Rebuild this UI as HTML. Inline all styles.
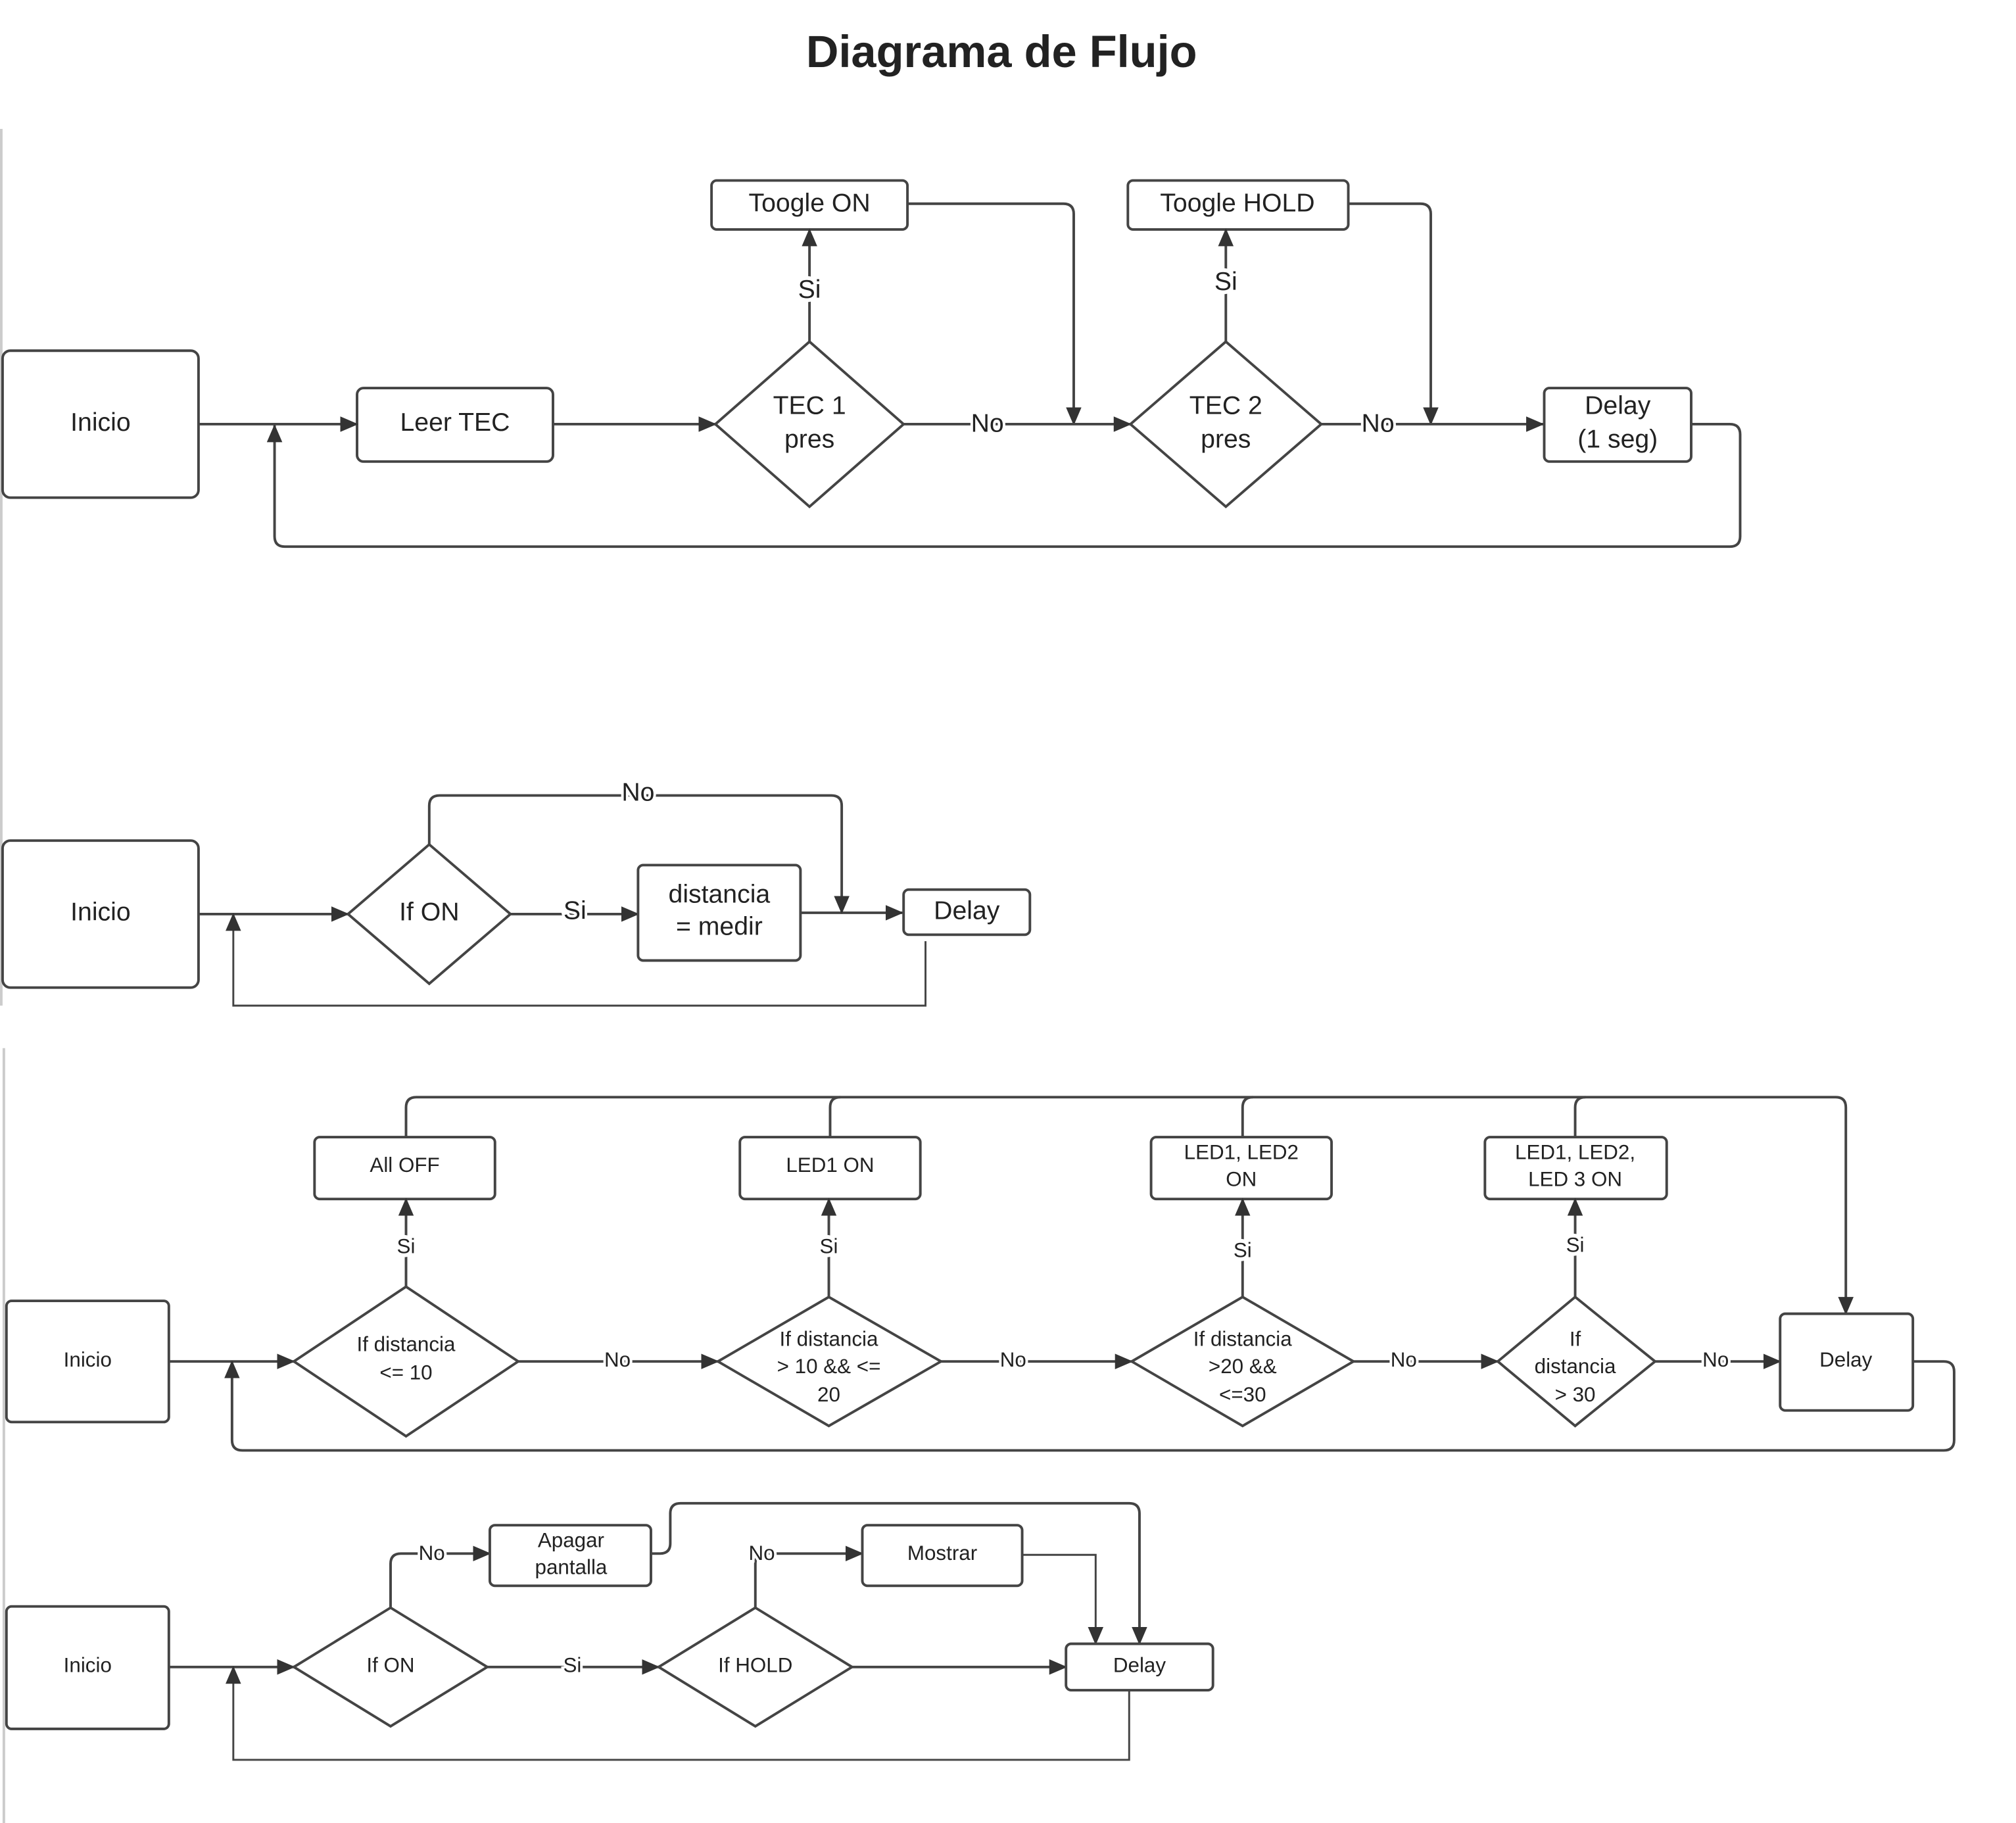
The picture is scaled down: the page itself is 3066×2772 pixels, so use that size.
<!DOCTYPE html>
<html><head><meta charset="utf-8"><style>
html,body{margin:0;padding:0;background:#fff;}
svg{display:block;}
text{font-family:"Liberation Sans",sans-serif;fill:#222;}
</style></head><body>
<svg width="3066" height="2772" viewBox="0 0 1564 1414" preserveAspectRatio="none" xmlns="http://www.w3.org/2000/svg">
<defs>
<marker id="a" markerUnits="userSpaceOnUse" markerWidth="14" markerHeight="12" refX="13" refY="6" orient="auto">
<path d="M0,0 L14,6 L0,12 Z" fill="#333"/></marker>
</defs>
<rect width="1564" height="1414" fill="#fff"/>
<text x="777" y="52" font-size="35" font-weight="bold" text-anchor="middle" fill="#000">Diagrama de Flujo</text>
<line x1="1" y1="100" x2="1" y2="780" stroke="#ccc" stroke-width="2"/>
<line x1="3" y1="813" x2="3" y2="1414" stroke="#ccc" stroke-width="2"/>

<g fill="none" stroke="#444" stroke-width="2">
<!-- Section 1 -->
<rect x="2" y="272" width="152" height="114" rx="6" fill="#fff"/>
<rect x="277" y="301" width="152" height="57" rx="5" fill="#fff"/>
<path d="M154,329 H277" marker-end="url(#a)"/>
<path d="M1312,329 H1342 Q1350,329 1350,337 V416 Q1350,424 1342,424 H221 Q213,424 213,416 V330" marker-end="url(#a)"/>
<path d="M429,329 H555" marker-end="url(#a)"/>
<polygon points="628,265 701,329 628,393 555,329" fill="#fff"/>
<rect x="552" y="140" width="152" height="38" rx="4" fill="#fff"/>
<path d="M628,265 V178" marker-end="url(#a)"/>
<path d="M704,158 H825 Q833,158 833,166 V329" marker-end="url(#a)"/>
<path d="M701,329 H877" marker-end="url(#a)"/>
<polygon points="951,265 1025,329 951,393 877,329" fill="#fff"/>
<rect x="875" y="140" width="171" height="38" rx="4" fill="#fff"/>
<path d="M951,265 V178" marker-end="url(#a)"/>
<path d="M1046,158 H1102 Q1110,158 1110,166 V329" marker-end="url(#a)"/>
<path d="M1025,329 H1197" marker-end="url(#a)"/>
<rect x="1198" y="301" width="114" height="57" rx="4" fill="#fff"/>

<!-- Section 2 -->
<rect x="2" y="652" width="152" height="114" rx="6" fill="#fff"/>
<path d="M154,709 H270" marker-end="url(#a)"/>
<path d="M718,730 V780 H181 V709" stroke-width="1.5" marker-end="url(#a)"/>
<polygon points="333,655 396,709 333,763 270,709" fill="#fff"/>
<path d="M396,709 H495" marker-end="url(#a)"/>
<rect x="495" y="671" width="126" height="74" rx="4" fill="#fff"/>
<path d="M621,708 H700" marker-end="url(#a)"/>
<path d="M333,655 V625 Q333,617 341,617 H645 Q653,617 653,625 V708" marker-end="url(#a)"/>
<rect x="701" y="690" width="98" height="35" rx="4" fill="#fff"/>

<!-- Section 3 -->
<rect x="5" y="1009" width="126" height="94" rx="4" fill="#fff"/>
<path d="M131,1056 H228" marker-end="url(#a)"/>
<path d="M1484,1056 H1508 Q1516,1056 1516,1064 V1117 Q1516,1125 1508,1125 H188 Q180,1125 180,1117 V1056" marker-end="url(#a)"/>
<polygon points="315,998 402,1056 315,1114 228,1056" fill="#fff"/>
<rect x="244" y="882" width="140" height="48" rx="4" fill="#fff"/>
<path d="M315,998 V930" marker-end="url(#a)"/>
<path d="M315,882 V859 Q315,851 323,851 H1424 Q1432,851 1432,859 V1019" marker-end="url(#a)"/>
<path d="M644,882 V859 Q644,851 652,851"/>
<path d="M964,882 V859 Q964,851 972,851"/>
<path d="M1222,882 V859 Q1222,851 1230,851"/>
<path d="M402,1056 H557" marker-end="url(#a)"/>
<polygon points="643,1006 730,1056 643,1106 557,1056" fill="#fff"/>
<rect x="574" y="882" width="140" height="48" rx="4" fill="#fff"/>
<path d="M643,1006 V930" marker-end="url(#a)"/>
<path d="M730,1056 H878" marker-end="url(#a)"/>
<polygon points="964,1006 1050,1056 964,1106 878,1056" fill="#fff"/>
<rect x="893" y="882" width="140" height="48" rx="4" fill="#fff"/>
<path d="M964,1006 V930" marker-end="url(#a)"/>
<path d="M1050,1056 H1162" marker-end="url(#a)"/>
<polygon points="1222,1006 1284,1056 1222,1106 1162,1056" fill="#fff"/>
<rect x="1152" y="882" width="141" height="48" rx="4" fill="#fff"/>
<path d="M1222,1006 V930" marker-end="url(#a)"/>
<path d="M1284,1056 H1381" marker-end="url(#a)"/>
<rect x="1381" y="1019" width="103" height="75" rx="4" fill="#fff"/>

<!-- Section 4 -->
<rect x="5" y="1246" width="126" height="95" rx="4" fill="#fff"/>
<path d="M131,1293 H228" marker-end="url(#a)"/>
<path d="M876,1311 V1365 H181 V1293" stroke-width="1.5" marker-end="url(#a)"/>
<polygon points="303,1247 378,1293 303,1339 228,1293" fill="#fff"/>
<path d="M303,1247 V1213 Q303,1205 311,1205 H380" marker-end="url(#a)"/>
<rect x="380" y="1183" width="125" height="47" rx="4" fill="#fff"/>
<path d="M505,1205 H512 Q520,1205 520,1197 V1174 Q520,1166 528,1166 H876 Q884,1166 884,1174 V1275" marker-end="url(#a)"/>
<path d="M378,1293 H511" marker-end="url(#a)"/>
<polygon points="586,1247 661,1293 586,1339 511,1293" fill="#fff"/>
<path d="M586,1247 V1213 Q586,1205 594,1205 H669" marker-end="url(#a)"/>
<rect x="669" y="1183" width="124" height="47" rx="4" fill="#fff"/>
<path d="M793,1206 H850 V1275" stroke-width="1.5" marker-end="url(#a)"/>
<path d="M661,1293 H827" marker-end="url(#a)"/>
<rect x="827" y="1275" width="114" height="36" rx="4" fill="#fff"/>
</g>

<g text-anchor="middle" font-size="20">
<text x="78" y="334">Inicio</text>
<text x="353" y="334">Leer TEC</text>
<text x="628" y="321">TEC 1</text><text x="628" y="347">pres</text>
<text x="628" y="164">Toogle ON</text>
<text x="628" y="231" style="paint-order:stroke" stroke="#fff" stroke-width="6">Si</text>
<text x="766" y="335" style="paint-order:stroke" stroke="#fff" stroke-width="4">No</text>
<text x="951" y="321">TEC 2</text><text x="951" y="347">pres</text>
<text x="960" y="164">Toogle HOLD</text>
<text x="951" y="225" style="paint-order:stroke" stroke="#fff" stroke-width="6">Si</text>
<text x="1069" y="335" style="paint-order:stroke" stroke="#fff" stroke-width="4">No</text>
<text x="1255" y="321">Delay</text><text x="1255" y="347">(1 seg)</text>

<text x="78" y="714">Inicio</text>
<text x="333" y="714">If ON</text>
<text x="446" y="713" style="paint-order:stroke" stroke="#fff" stroke-width="4">Si</text>
<text x="558" y="700">distancia</text><text x="558" y="725">= medir</text>
<text x="495" y="621" style="paint-order:stroke" stroke="#fff" stroke-width="4">No</text>
<text x="750" y="713">Delay</text>
</g>

<g text-anchor="middle" font-size="16">
<text x="68" y="1060">Inicio</text>
<text x="315" y="1048">If distancia</text><text x="315" y="1070">&lt;= 10</text>
<text x="314" y="909">All OFF</text>
<text x="315" y="972" style="paint-order:stroke" stroke="#fff" stroke-width="6">Si</text>
<text x="479" y="1060" style="paint-order:stroke" stroke="#fff" stroke-width="4">No</text>
<text x="643" y="1044">If distancia</text><text x="643" y="1065">&gt; 10 &amp;&amp; &lt;=</text><text x="643" y="1087">20</text>
<text x="644" y="909">LED1 ON</text>
<text x="643" y="972" style="paint-order:stroke" stroke="#fff" stroke-width="6">Si</text>
<text x="786" y="1060" style="paint-order:stroke" stroke="#fff" stroke-width="4">No</text>
<text x="964" y="1044">If distancia</text><text x="964" y="1065">&gt;20 &amp;&amp;</text><text x="964" y="1087">&lt;=30</text>
<text x="963" y="899">LED1, LED2</text><text x="963" y="920">ON</text>
<text x="964" y="975" style="paint-order:stroke" stroke="#fff" stroke-width="6">Si</text>
<text x="1089" y="1060" style="paint-order:stroke" stroke="#fff" stroke-width="4">No</text>
<text x="1222" y="1044">If</text><text x="1222" y="1065">distancia</text><text x="1222" y="1087">&gt; 30</text>
<text x="1222" y="899">LED1, LED2,</text><text x="1222" y="920">LED 3 ON</text>
<text x="1222" y="971" style="paint-order:stroke" stroke="#fff" stroke-width="6">Si</text>
<text x="1331" y="1060" style="paint-order:stroke" stroke="#fff" stroke-width="4">No</text>
<text x="1432" y="1060">Delay</text>

<text x="68" y="1297">Inicio</text>
<text x="303" y="1297">If ON</text>
<text x="335" y="1210" style="paint-order:stroke" stroke="#fff" stroke-width="4">No</text>
<text x="443" y="1200">Apagar</text><text x="443" y="1221">pantalla</text>
<text x="444" y="1297" style="paint-order:stroke" stroke="#fff" stroke-width="4">Si</text>
<text x="586" y="1297">If HOLD</text>
<text x="591" y="1210" style="paint-order:stroke" stroke="#fff" stroke-width="4">No</text>
<text x="731" y="1210">Mostrar</text>
<text x="884" y="1297">Delay</text>
</g>
</svg>
</body></html>
